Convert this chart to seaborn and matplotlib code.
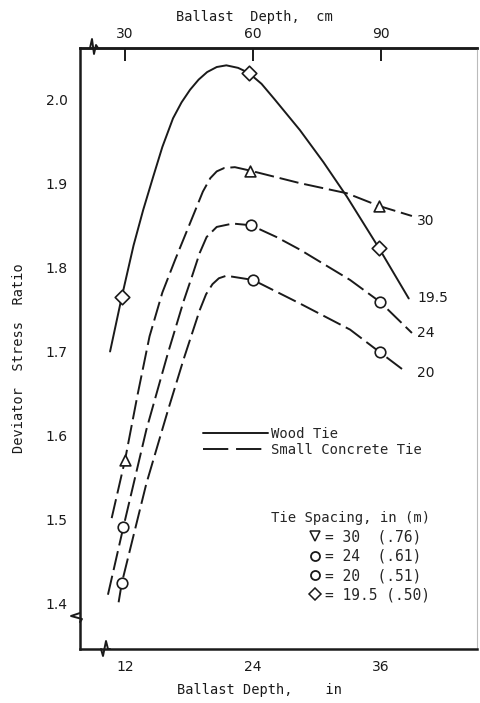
import numpy as np
import pandas as pd
import matplotlib
matplotlib.use("Agg")
import matplotlib.pyplot as plt
from matplotlib.lines import Line2D
import seaborn as sns

# ---------------- data ----------------
# traced curves: ballast depth (in) vs deviator stress ratio
wood_195_x = [10.6, 11.7, 12.8, 13.7, 14.65, 15.5, 16.5, 17.3, 18.1, 18.9, 19.7, 20.6, 21.5, 22.6, 23.6, 24.8, 26.0, 28.4, 30.6, 32.8, 35.8, 38.6]
wood_195_y = [1.700, 1.765, 1.826, 1.868, 1.908, 1.943, 1.977, 1.996, 2.011, 2.023, 2.032, 2.038, 2.040, 2.037, 2.031, 2.018, 2.000, 1.963, 1.925, 1.884, 1.823, 1.763]

conc_30_x = [10.75, 12.0, 13.2, 14.3, 15.5, 16.7, 18.5, 19.3, 20.0, 20.6, 21.3, 22.3, 23.7, 28.4, 32.8, 35.8, 38.9]
conc_30_y = [1.502, 1.571, 1.650, 1.718, 1.770, 1.809, 1.865, 1.890, 1.906, 1.914, 1.918, 1.919, 1.915, 1.900, 1.888, 1.873, 1.861]

conc_24_x = [10.4, 11.84, 14.0, 16.0, 17.5, 18.3, 19.0, 19.65, 20.6, 22.1, 23.8, 26.2, 28.4, 33.1, 35.9, 38.9]
conc_24_y = [1.411, 1.491, 1.607, 1.697, 1.760, 1.790, 1.817, 1.836, 1.848, 1.852, 1.850, 1.836, 1.821, 1.785, 1.759, 1.722]

conc_20_x = [11.4, 11.7, 14.0, 16.0, 17.5, 19.0, 19.6, 20.2, 20.8, 21.5, 24.0, 26.2, 28.4, 33.1, 35.9, 38.2]
conc_20_y = [1.402, 1.425, 1.543, 1.629, 1.691, 1.749, 1.768, 1.780, 1.787, 1.790, 1.785, 1.771, 1.757, 1.726, 1.699, 1.677]

# measured points (markers)
diamond_x = [11.7, 23.6, 35.8]
diamond_y = [1.765, 2.031, 1.823]
triangle_x = [12.0, 23.7, 35.8]
triangle_y = [1.571, 1.915, 1.873]
circle24_x = [11.84, 23.8, 35.9]
circle24_y = [1.491, 1.850, 1.759]
circle20_x = [11.7, 24.0, 35.9]
circle20_y = [1.425, 1.785, 1.699]

curve_labels = ["30", "19.5", "24", "20"]
curve_label_y = [1.855, 1.764, 1.722, 1.674]

x_ticks_in = [12, 24, 36]
x_ticks_cm = [30, 60, 90]
y_ticks = [1.4, 1.5, 1.6, 1.7, 1.8, 1.9, 2.0]

spacing_labels = ["= 30  (.76)", "= 24  (.61)", "= 20  (.51)", "= 19.5 (.50)"]

# ---------------- figure ----------------
sns.set_style("white")
plt.rcParams['font.family'] = ['DejaVu Sans']
MONO = ['DejaVu Sans Mono']

fig = plt.figure(figsize=(4.8, 7.03), dpi=100)
ax = fig.add_axes([80/480, 1-649/703, 397/480, 601/703])

K = "#1a1a1a"
DASH = (0, (10, 3))
LW = 1.4

def curve(xs, ys, ls):
    df = pd.DataFrame({"x": xs, "y": ys})
    sns.lineplot(data=df, x="x", y="y", ax=ax, sort=False, estimator=None,
                 color=K, lw=LW, linestyle=ls, zorder=2)

curve(wood_195_x, wood_195_y, "-")
curve(conc_30_x, conc_30_y, DASH)
curve(conc_24_x, conc_24_y, DASH)
curve(conc_20_x, conc_20_y, DASH)

def marks(xs, ys, m, s):
    sns.scatterplot(x=xs, y=ys, ax=ax, marker=m, s=s, facecolor="white",
                    edgecolor=K, linewidth=1.2, zorder=4)

marks(diamond_x, diamond_y, "D", 55)
marks(triangle_x, triangle_y, "^", 60)
marks(circle24_x, circle24_y, "o", 58)
marks(circle20_x, circle20_y, "o", 58)

for lab, yy in zip(curve_labels, curve_label_y):
    ax.text(39.4, yy, lab, ha="left", va="center", fontsize=10, color=K)

ax.set_xlim(7.78, 45.0)
ax.set_ylim(1.3465, 2.0606)
ax.set_xticks(x_ticks_in)
ax.set_xticklabels([str(v) for v in x_ticks_in])
ax.set_yticks(y_ticks)
ax.set_yticklabels([f"{v:.1f}" for v in y_ticks])
ax.tick_params(axis="x", direction="in", length=12, width=1.4, pad=8, labelsize=10, colors=K)
ax.tick_params(axis="y", direction="in", length=8, width=1.1, pad=9, labelsize=10, colors=K)

for side in ["left", "bottom", "top"]:
    ax.spines[side].set_linewidth(1.8)
    ax.spines[side].set_color(K)
ax.spines["right"].set_linewidth(0.8)
ax.spines["right"].set_color("#bbbbbb")

ax.set_xlabel("Ballast Depth,    in", fontsize=9.8, color=K, family=MONO)
ax.xaxis.set_label_coords(0.453, -0.0566)
ax.set_ylabel("Deviator  Stress  Ratio", fontsize=9.8, color=K, family=MONO)
ax.yaxis.set_label_coords(-0.136, 0.484)

secax = ax.secondary_xaxis("top", functions=(lambda x: x * 2.5, lambda x: x / 2.5))
secax.set_xticks(x_ticks_cm)
secax.set_xticklabels([str(v) for v in x_ticks_cm])
secax.tick_params(axis="x", direction="in", length=9, width=1.4, pad=5, labelsize=10, colors=K)
secax.spines["top"].set_linewidth(1.8)
secax.spines["top"].set_color(K)
secax.set_xlabel("Ballast  Depth,  cm", fontsize=9.8, color=K, family=MONO)
secax.xaxis.set_label_coords(0.438, 1.045, transform=ax.transAxes)

# axis break marks (px offsets converted to axes fraction)
W, H = 397.0, 601.0
def zig(x0, y0, pts):
    xs = [x0 + dx / W for dx, dy in pts]
    ys = [y0 + dy / H for dx, dy in pts]
    ax.plot(xs, ys, transform=ax.transAxes, color=K, lw=1.4, clip_on=False, zorder=5)

zig(13 / W, 1.0, [(-3, 0), (-1, 9), (1, -6), (3, 3), (5, 0)])
zig(25 / W, 0.0, [(-4, 0), (-2, -7), (1, 8), (3, 0), (5, 0)])
zig(0.0, 31 / H, [(0, 5), (-9, 2), (2, -1), (0, -4)])

# legends
h_lines = [Line2D([], [], color=K, lw=LW),
           Line2D([], [], color=K, lw=LW, linestyle=(0, (13, 4)))]
leg1 = ax.legend(h_lines, ["Wood Tie", "Small Concrete Tie"], loc="upper left",
                 bbox_to_anchor=(123 / W, 1 - (427 - 48) / H), frameon=False,
                 prop={"family": MONO, "size": 10}, handlelength=4.7, handletextpad=0.2,
                 labelspacing=0.15, borderaxespad=0, borderpad=0)
ax.add_artist(leg1)

h_marks = [Line2D([], [], marker="v", ls="none", mfc="white", mec=K, mew=1.1, ms=7),
           Line2D([], [], marker="o", ls="none", mfc="white", mec=K, mew=1.3, ms=6.5),
           Line2D([], [], marker="o", ls="none", mfc="white", mec=K, mew=1.3, ms=6.5),
           Line2D([], [], marker="D", ls="none", mfc="white", mec=K, mew=1.1, ms=6)]
leg2 = ax.legend(h_marks, spacing_labels, title="Tie Spacing, in (m)",
                 loc="upper right", bbox_to_anchor=((430 - 80) / W, 1 - (511 - 48) / H),
                 frameon=False, prop={"family": MONO, "size": 10.5},
                 title_fontproperties={"family": MONO, "size": 10}, alignment="right",
                 handlelength=0.8, handletextpad=0.3, labelspacing=0.3,
                 borderaxespad=0, borderpad=0)

fig.savefig("out.png", dpi=100)
